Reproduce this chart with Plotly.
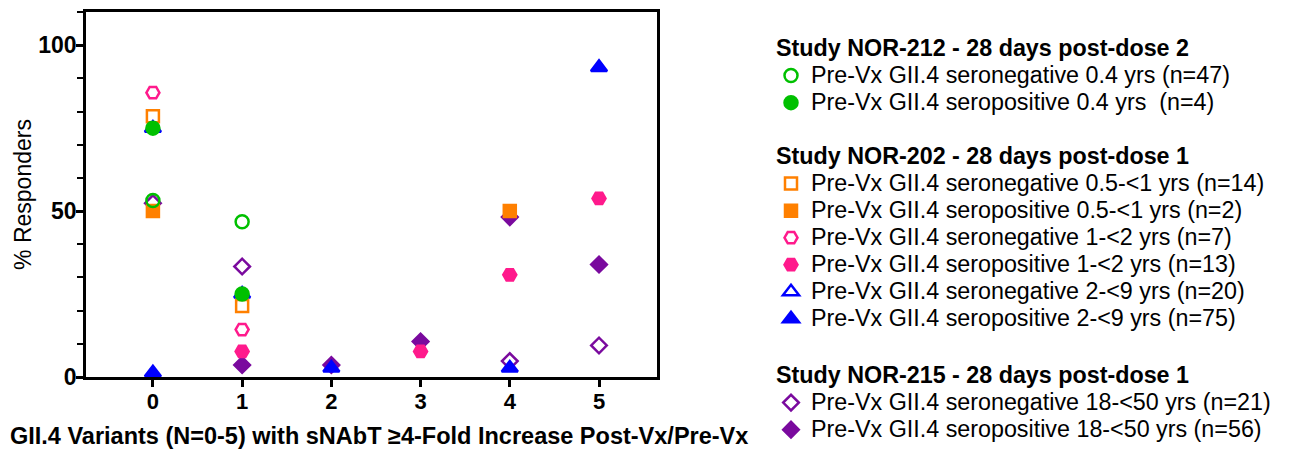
import plotly.graph_objects as go

variants = [0, 1, 2, 3, 4, 5]
tick_labels = ["0", "1", "2", "3", "4", "5"]

green_open = [53.2, 46.8, None, None, None, None]
green_filled = [75.0, 25.0, None, None, None, None]
orange_open = [78.6, 21.4, None, None, None, None]
orange_filled = [50.0, None, None, None, 50.0, None]
pink_open = [85.7, 14.3, None, None, None, None]
pink_filled = [None, 7.7, None, 7.7, 30.8, 53.8]
blue_open = [75.0, 25.0, None, None, None, None]
blue_filled = [1.3, None, 2.7, None, 2.7, 93.3]
purple_open = [52.4, 33.3, None, None, 4.8, 9.5]
purple_filled = [None, 3.6, 3.6, 10.7, 48.2, 33.9]

GREEN = "#00C000"
ORANGE = "#FF8000"
PINK = "#FF1A8C"
BLUE = "#0000FF"
PURPLE = "#7A0A9E"

G212 = "Study NOR-212 - 28 days post-dose 2"
G202 = "Study NOR-202 - 28 days post-dose 1"
G215 = "Study NOR-215 - 28 days post-dose 1"
X_TITLE = "GII.4 Variants (N=0-5) with sNAbT ≥4-Fold Increase Post-Vx/Pre-Vx"
Y_TITLE = "% Responders"

# drawing order (bottom -> top), with legend rank and legend id
series = [
    (purple_open, "Pre-Vx GII.4 seronegative 18-<50 yrs (n=21)", PURPLE, "diamond-open", 12, G215, 9, "legend3"),
    (purple_filled, "Pre-Vx GII.4 seropositive 18-<50 yrs (n=56)", PURPLE, "diamond", 12, G215, 10, "legend3"),
    (pink_open, "Pre-Vx GII.4 seronegative 1-<2 yrs (n=7)", PINK, "hexagon2-open", 13, G202, 5, "legend2"),
    (pink_filled, "Pre-Vx GII.4 seropositive 1-<2 yrs (n=13)", PINK, "hexagon2", 13, G202, 6, "legend2"),
    (blue_open, "Pre-Vx GII.4 seronegative 2-<9 yrs (n=20)", BLUE, "triangle-up-open", 14, G202, 7, "legend2"),
    (blue_filled, "Pre-Vx GII.4 seropositive 2-<9 yrs (n=75)", BLUE, "triangle-up", 14, G202, 8, "legend2"),
    (orange_open, "Pre-Vx GII.4 seronegative 0.5-<1 yrs (n=14)", ORANGE, "square-open", 12, G202, 3, "legend2"),
    (orange_filled, "Pre-Vx GII.4 seropositive 0.5-<1 yrs (n=2)", ORANGE, "square", 12, G202, 4, "legend2"),
    (green_open, "Pre-Vx GII.4 seronegative 0.4 yrs (n=47)", GREEN, "circle-open", 13, G212, 1, "legend"),
    (green_filled, "Pre-Vx GII.4 seropositive 0.4 yrs  (n=4)", GREEN, "circle", 13, G212, 2, "legend"),
]

TXT = 23.3

fig = go.Figure()
for vals, name, color, sym, size, grp, rank, leg in series:
    fig.add_trace(go.Scatter(
        x=variants, y=vals, mode="markers",
        name=f'<span style="font-size:{TXT}px">{name.replace("<", "&lt;")}</span>',
        marker=dict(symbol=sym, size=size, color=color,
                    line=dict(width=2.5, color=color)),
        legendgroup=grp,
        legendgrouptitle=dict(text=f'<span style="font-size:{TXT}px">{grp}</span>',
                              font=dict(size=18.5, weight="bold", color="black")),
        legendrank=rank, legend=leg, cliponaxis=False,
    ))

FONT = "Arial, Liberation Sans, sans-serif"


def leg(top_px):
    return dict(
        xref="container", yref="container", x=763 / 1292, y=1 - top_px / 451,
        xanchor="left", yanchor="top", traceorder="grouped",
        font=dict(size=18.5, color="black"), maxheight=400,
        bgcolor="rgba(0,0,0,0)",
    )


fig.update_layout(
    width=1292, height=451,
    margin=dict(l=78, r=643, t=4, b=82, autoexpand=False),
    paper_bgcolor="white", plot_bgcolor="white",
    font=dict(family=FONT, color="black"),
    showlegend=True,
    legend=leg(22), legend2=leg(130), legend3=leg(349),
    xaxis=dict(
        range=[-0.75, 5.65], tickvals=variants, ticktext=tick_labels,
        showline=True, linewidth=2.5, linecolor="black", mirror=True,
        ticks="outside", ticklen=7, tickwidth=2.5, tickcolor="black",
        tickfont=dict(size=22, weight="bold"), showgrid=False, zeroline=False,
        automargin=False, ticklabelstandoff=-4,
    ),
    yaxis=dict(
        range=[0, 110], tickvals=[0, 50, 100],
        showline=True, linewidth=2.5, linecolor="black", mirror=True,
        ticks="outside", ticklen=7, tickwidth=2.5, tickcolor="black",
        minor=dict(dtick=10, tick0=0, ticks="outside", ticklen=6, tickwidth=2, tickcolor="black"),
        tickfont=dict(size=23, weight="bold"), showgrid=False, zeroline=False,
        automargin=False, ticklabelstandoff=-5,
        title=dict(text=Y_TITLE, font=dict(size=23), standoff=1),
    ),
    annotations=[dict(
        text=X_TITLE, xref="paper", yref="paper", x=293 / 571, y=-59 / 365,
        xanchor="center", yanchor="middle", showarrow=False,
        font=dict(size=23.5, weight="bold", color="black"),
    )],
)

fig.write_html("out.html")
